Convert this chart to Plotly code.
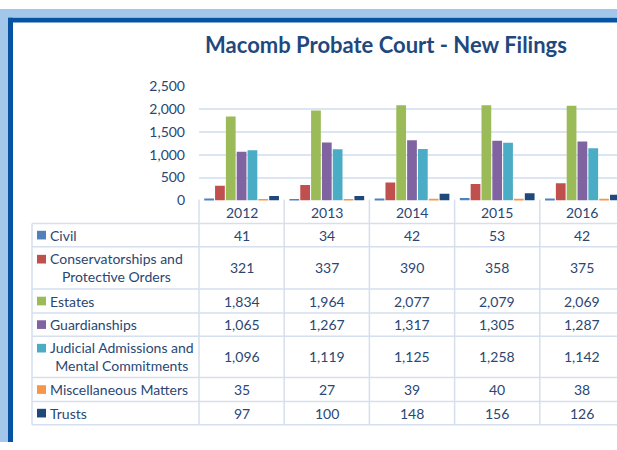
import plotly.graph_objects as go

# ---------------- data ----------------
years = ["2012", "2013", "2014", "2015", "2016"]
series_names = [
    "Civil",
    "Conservatorships and<br>Protective Orders",
    "Estates",
    "Guardianships",
    "Judicial Admissions and<br>Mental Commitments",
    "Miscellaneous Matters",
    "Trusts",
]
civil = [41, 34, 42, 53, 42]
conservatorships = [321, 337, 390, 358, 375]
estates = [1834, 1964, 2077, 2079, 2069]
guardianships = [1065, 1267, 1317, 1305, 1287]
judicial = [1096, 1119, 1125, 1258, 1142]
miscellaneous = [35, 27, 39, 40, 38]
trusts = [97, 100, 148, 156, 126]
series_values = [civil, conservatorships, estates, guardianships, judicial, miscellaneous, trusts]
y_ticks = [0, 500, 1000, 1500, 2000, 2500]

# ---------------- style ----------------
colors = ["#4F81BD", "#C0504D", "#9BBB59", "#8064A2", "#4BACC6", "#F79646", "#1F497D"]
W, H = 617, 450
FONT = "Lato"
TXT = "#2A4773"
LINE = "#D5DFEE"


def px(x):
    return x / W


def py(y):
    return 1 - y / H


fig = go.Figure()
for name, vals, col in zip(series_names, series_values, colors):
    fig.add_trace(go.Bar(x=years, y=vals, name=name.replace("<br>", " "),
                         marker=dict(color=col, line=dict(width=0))))

cat_w = 85.2
plot_left = 199
fig.update_layout(
    width=W, height=H,
    margin=dict(l=0, r=0, t=0, b=0),
    paper_bgcolor="white", plot_bgcolor="white",
    showlegend=False,
    barmode="group", bargap=0.11, bargroupgap=0.1,
    title=dict(text="<b>Macomb Probate Court - New Filings</b>", x=386 / W, y=py(45),
               xanchor="center", yanchor="middle",
               font=dict(family=FONT, size=22, color="#1F497D")),
    xaxis=dict(type="category", domain=[px(plot_left), 1],
               range=[-0.5, -0.5 + (W - plot_left) / cat_w],
               showticklabels=False, showgrid=False, zeroline=False, showline=False,
               ticks=""),
    yaxis=dict(domain=[py(199), py(80)], range=[0, 2500], tickvals=y_ticks,
               tickformat=",d", showgrid=True, gridcolor="#DCE6F2", gridwidth=1.5,
               zeroline=False, showline=False, ticks="", ticklabelstandoff=13,
               tickfont=dict(family=FONT, size=14, color=TXT)),
)

shapes = []
annotations = []

# outer frame (light + dark blue bands)
shapes.append(dict(type="rect", xref="paper", yref="paper", x0=0, x1=px(8), y0=0, y1=1,
                   fillcolor="#A3C7EA", line=dict(width=0), layer="above"))
shapes.append(dict(type="rect", xref="paper", yref="paper", x0=0, x1=1, y0=py(9), y1=1,
                   fillcolor="#A3C7EA", line=dict(width=0), layer="above"))
shapes.append(dict(type="rect", xref="paper", yref="paper", x0=px(8), x1=px(13), y0=0, y1=py(9),
                   fillcolor="#0553A1", line=dict(width=0), layer="above"))
shapes.append(dict(type="rect", xref="paper", yref="paper", x0=px(8), x1=1, y0=py(14), y1=py(9),
                   fillcolor="#0553A1", line=dict(width=0), layer="above"))

# data table
row_edges = [223, 247, 291, 316, 340, 383, 408, 432]
table_left = 32
for y in row_edges:
    shapes.append(dict(type="line", xref="paper", yref="paper", x0=px(table_left), x1=1,
                       y0=py(y), y1=py(y), line=dict(color=LINE, width=1.5)))
shapes.append(dict(type="line", xref="paper", yref="paper", x0=px(table_left), x1=px(table_left),
                   y0=py(row_edges[0]), y1=py(row_edges[-1]), line=dict(color=LINE, width=1.5)))
shapes.append(dict(type="line", xref="paper", yref="paper", x0=px(plot_left), x1=px(plot_left),
                   y0=py(198), y1=py(row_edges[-1]), line=dict(color=LINE, width=1.5)))
for i in range(1, len(years)):
    shapes.append(dict(type="line", xref="x", yref="paper", x0=i - 0.5, x1=i - 0.5,
                       y0=py(198), y1=py(row_edges[-1]), line=dict(color=LINE, width=1.5)))

# header (years)
for i, yr in enumerate(years):
    annotations.append(dict(x=i, y=py(211), xref="x", yref="paper", text=yr, showarrow=False,
                            xanchor="center", yanchor="middle",
                            font=dict(family=FONT, size=14, color=TXT)))

for r, (name, vals, col) in enumerate(zip(series_names, series_values, colors)):
    top, bot = row_edges[r], row_edges[r + 1]
    cy = (top + bot) / 2
    two = "<br>" in name
    first_line = cy - 9 if two else cy
    shapes.append(dict(type="rect", xref="paper", yref="paper", x0=px(37), x1=px(46),
                       y0=py(first_line + 4.5), y1=py(first_line - 4.5),
                       fillcolor=col, line=dict(width=0)))
    annotations.append(dict(x=px(48), y=py(cy), xref="paper", yref="paper", text=name,
                            showarrow=False, xanchor="left", yanchor="middle", align="center",
                            font=dict(family=FONT, size=14, color=TXT)))
    for i, v in enumerate(vals):
        annotations.append(dict(x=i, y=py(cy), xref="x", yref="paper", text=f"{v:,}",
                                showarrow=False, xanchor="center", yanchor="middle",
                                font=dict(family=FONT, size=14, color=TXT)))

fig.update_layout(shapes=shapes, annotations=annotations)
fig.write_html(
    "out.html",
    config={"displayModeBar": False},
    post_script="document.body.style.margin='0';document.body.style.overflow='hidden';",
)
